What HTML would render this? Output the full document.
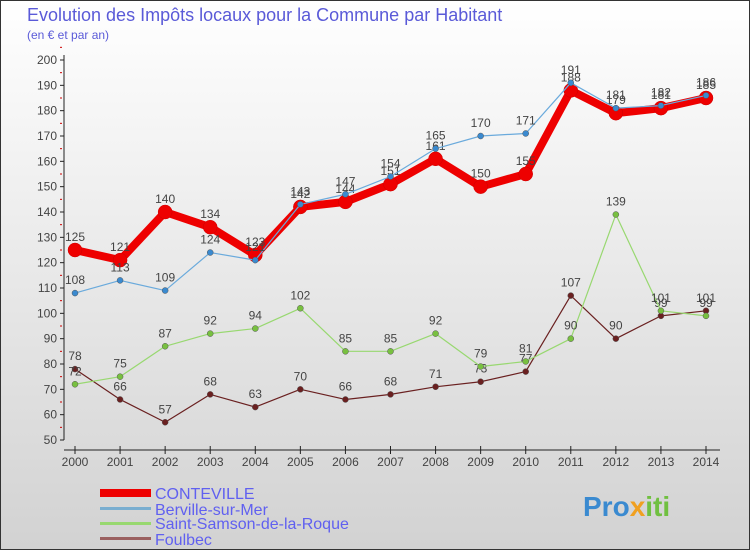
<!DOCTYPE html>
<html><head><meta charset="utf-8"><style>
html,body{margin:0;padding:0}
body{width:750px;height:550px;overflow:hidden;font-family:"Liberation Sans",sans-serif}
</style></head><body>
<svg id="chart" width="750" height="550" xmlns="http://www.w3.org/2000/svg">
<defs>
<linearGradient id="bg" x1="0" y1="0" x2="0" y2="1"><stop offset="0" stop-color="#ffffff"/><stop offset="1" stop-color="#d2d2d2"/></linearGradient>
</defs>
<rect x="0.5" y="0.5" width="749" height="549" fill="url(#bg)" stroke="#333"/>
<text x="27" y="21" font-size="18" fill="#5a5ad8">Evolution des Impôts locaux pour la Commune par Habitant</text>
<text x="27" y="39" font-size="12" fill="#5a5ad8">(en € et par an)</text>
<g id="axes"></g>
<g id="series"></g>
<g id="legend">
<rect x="100" y="489" width="51" height="8" fill="#ee0000"/>
<text x="155" y="499" font-size="16" fill="#6060f0">CONTEVILLE</text>
<rect x="100" y="507" width="51" height="3" fill="#7aaed0"/>
<text x="155" y="515" font-size="16" fill="#6060f0">Berville-sur-Mer</text>
<rect x="100" y="522" width="51" height="3" fill="#98d870"/>
<text x="155" y="529" font-size="16" fill="#6060f0">Saint-Samson-de-la-Roque</text>
<rect x="100" y="537" width="51" height="3" fill="#9a6060"/>
<text x="155" y="545" font-size="16" fill="#6060f0">Foulbec</text>
</g>
<text x="583" y="516" font-size="28" font-weight="bold" fill="#3a8ad0">Pro<tspan fill="#f0a020">x</tspan><tspan fill="#70c040">iti</tspan></text>
</svg>
<script>
const years=[2000,2001,2002,2003,2004,2005,2006,2007,2008,2009,2010,2011,2012,2013,2014];
const conteville=[125,121,140,134,123,142,144,151,161,150,155,188,179,181,185];
const berville=[108,113,109,124,121,143,147,154,165,170,171,191,181,182,186];
const saintSamson=[72,75,87,92,94,102,85,85,92,79,81,90,139,101,99];
const foulbec=[78,66,57,68,63,70,66,68,71,73,77,107,90,99,101];
const yTicks=[50,60,70,80,90,100,110,120,130,140,150,160,170,180,190,200];
const NS="http://www.w3.org/2000/svg";
const X=i=>75+i*(706-75)/(years.length-1);
const Y=v=>440-(v-50)*(380/150);
function mk(tag,attrs,parent){const e=document.createElementNS(NS,tag);for(const k in attrs)e.setAttribute(k,attrs[k]);parent.appendChild(e);return e;}
const axes=document.getElementById('axes');
const ya=mk('line',{x1:64,y1:55,x2:64,y2:440,stroke:'#222'},axes);


yTicks.forEach(t=>{
 const l=mk('line',{x1:60,y1:Y(t),x2:64,y2:Y(t),stroke:'#222'},axes);
 
 
 const m=mk('line',{x1:60,y1:Y(t+5),x2:62,y2:Y(t+5),stroke:'#c00'},axes);
 
 
 const tx=mk('text',{x:57,y:Y(t)+4,'font-size':12,fill:'#444','text-anchor':'end'},axes);
 tx.textContent=t;
 
 
});
const xa=mk('line',{x1:64,y1:450,x2:720,y2:450,stroke:'#222'},axes);


years.forEach((yr,i)=>{
 const l=mk('line',{x1:X(i),y1:446,x2:X(i),y2:454,stroke:'#222'},axes);
 
 
 const tx=mk('text',{x:X(i),y:466,'font-size':12,fill:'#444','text-anchor':'middle'},axes);
 tx.textContent=yr;
 
 
});
const sg=document.getElementById('series');
function draw(name,vals,color,w,r,mcol){
 const g=mk('g',{},sg);
 
 
 const p=mk('polyline',{points:vals.map((v,i)=>X(i)+','+Y(v)).join(' '),fill:'none',stroke:color,'stroke-width':w,'stroke-linejoin':'round'},g);
 
 
 vals.forEach((v,i)=>{
  const c=mk('circle',{cx:X(i),cy:Y(v),r:r,fill:mcol,stroke:w>3?'#cc0000':'#555','stroke-width':0.5},g);
  
  
  const t=mk('text',{x:X(i),y:Y(v)-9,'font-size':12,fill:'#444','text-anchor':'middle'},g);
  t.textContent=v;
  
  
 });
}
draw('foulbec',foulbec,'#6a2020',1.2,3,'#6a2020');
draw('saint-samson',saintSamson,'#98d870',1.2,3,'#78c040');
draw('conteville',conteville,'#ee0000',8,7,'#ee0000');
draw('berville',berville,'#6aaadc',1.2,3,'#3a8ad0');
</script>
</body></html>
